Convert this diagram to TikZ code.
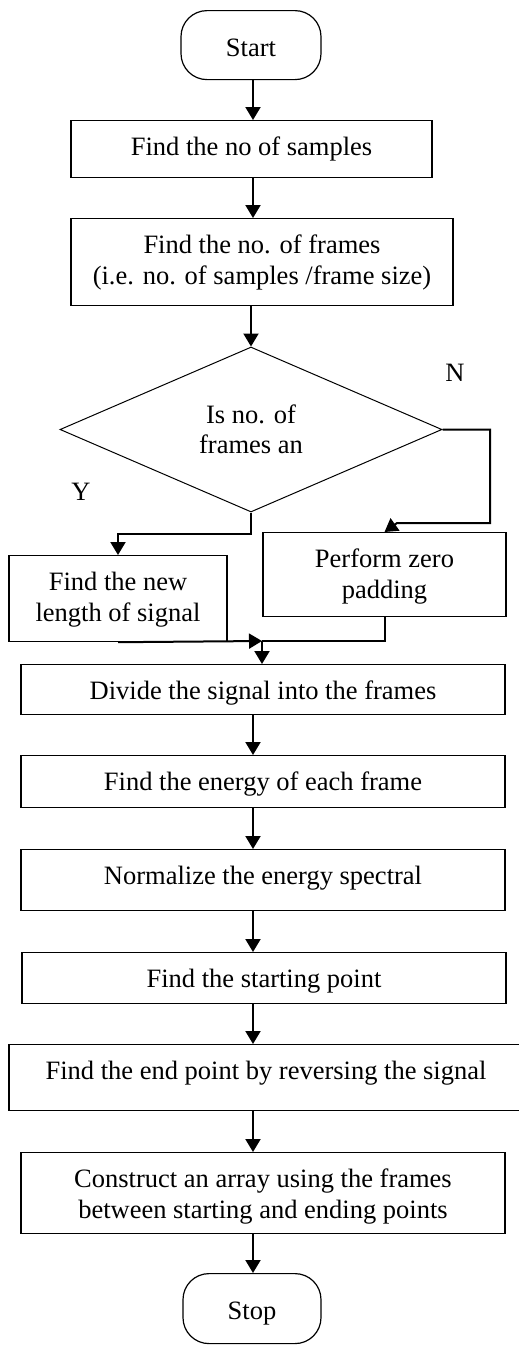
\documentclass[tikz,border=0pt]{standalone}
\usepackage{fontspec}
\setmainfont{Liberation Serif}
\usetikzlibrary{shapes.geometric,arrows.meta}
\begin{document}
\begin{tikzpicture}[x=1pt,y=-1pt,
  font=\fontsize{26.5}{30.5}\selectfont,
  box/.style={draw,line width=1.2pt,inner xsep=4pt,inner ysep=0pt,
    text height=35pt,align=center,anchor=north},
  box2/.style={box,text height=65.5pt},
  term/.style={draw,line width=1.2pt,rounded corners=26pt,inner sep=0pt,
    text height=46pt,anchor=north},
  arr/.style={line width=2pt,-{Triangle[length=13pt,width=15pt]}},
  link/.style={line width=2pt},
  lbl/.style={inner sep=0pt}
]
\useasboundingbox (0,0) rectangle (519,1345);

% process steps
\node[term, minimum width=140pt, text depth=23pt] (start) at (251,10) {Start};
\node[box, minimum width=361pt, text depth=22pt] (b1) at (251.5,120) {Find the no of samples};
\node[box2, minimum width=382pt, text depth=21.5pt] (b2) at (262,218)
  {Find the no. of frames\\(i.e. no. of samples /frame size)};
\node[draw, diamond, line width=1pt, minimum width=382pt, minimum height=165pt,
  aspect=2.3, inner sep=0pt, align=center] (dec) at (251,429.5) {Is no. of\\frames an};
\node[lbl] (nlab) at (455,373) {N};
\node[lbl] (ylab) at (81,492) {Y};
\node[box2, minimum width=218pt, text depth=20.5pt] (fl) at (118,555) {Find the new\\length of signal};
\node[box2, minimum width=243pt, text depth=18.5pt] (zp) at (384.5,532) {Perform zero\\padding};
\node[box, minimum width=484pt, text depth=15pt] (div) at (263,664) {Divide the signal into the frames};
\node[box, minimum width=484pt, text depth=17pt] (en) at (263,755) {Find the energy of each frame};
\node[box, minimum width=484pt, text depth=26pt] (nm) at (263,849) {Normalize the energy spectral};
\node[box, minimum width=484pt, text depth=16pt] (sp) at (264,952) {Find the starting point};
\node[box, minimum width=514pt, text depth=31pt] (ep) at (266,1044) {Find the end point by reversing the signal};
\node[box2, minimum width=484pt, text depth=15.5pt] (co) at (263,1152)
  {Construct an array using the frames\\between starting and ending points};
\node[term, minimum width=138pt, text depth=24pt] (stop) at (252,1273) {Stop};

% helper points
\coordinate (ax) at (253,0);
\coordinate (m) at (262,641);
\coordinate (nA) at (490,523);
\coordinate (nB) at (397,523);

% connectors
\draw[arr] (start.south -| ax) -- (b1.north -| ax);
\draw[arr] (b1.south -| ax) -- (b2.north -| ax);
\draw[arr] (dec.north |- b2.south) -- (dec.north);
\draw[arr] (dec.east) -| (nA) -- (nB) -- (zp.north);
\draw[arr] (dec.south) -- ++(0,21) -| (fl.north);
\draw[link] (zp.south) |- (m);
\draw[arr] (fl.south) -- (m);
\draw[arr] (m) -- (m |- div.north);
\draw[arr] (div.south -| ax) -- (en.north -| ax);
\draw[arr] (en.south -| ax) -- (nm.north -| ax);
\draw[arr] (nm.south -| ax) -- (sp.north -| ax);
\draw[arr] (sp.south -| ax) -- (ep.north -| ax);
\draw[arr] (ep.south -| ax) -- (co.north -| ax);
\draw[arr] (co.south -| ax) -- (stop.north -| ax);
\end{tikzpicture}
\end{document}
